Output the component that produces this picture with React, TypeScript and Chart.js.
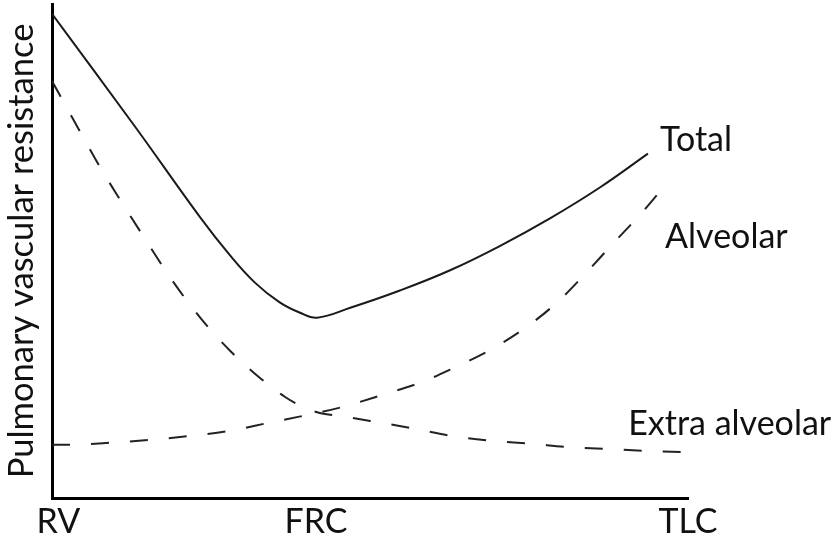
import React, { useEffect, useRef } from 'react';
import { Chart, registerables } from 'chart.js';

Chart.register(...registerables);

// Axis labels
const xTickValues = [1, 41.5, 100];
const xTickLabels = ['RV', 'FRC', 'TLC'];
const yAxisTitle = 'Pulmonary vascular resistance';

// Series (x: lung volume RV→TLC as 0–100, y: resistance arbitrary units)
const totalX = [0, 13.1, 23.3, 28.0, 31.9, 35.8, 39.0, 41.7, 46.9, 54.7, 62.6, 70.4, 78.3, 86.2, 93.7];
const totalY = [98.0, 75.1, 56.8, 49.1, 43.6, 39.6, 37.5, 36.5, 38.5, 42.0, 46.1, 51.0, 56.6, 62.9, 69.7];

const alveolarX = [0, 3.1, 9.4, 15.7, 22.0, 28.0, 34.0, 40.1, 45.3, 52.0, 58.2, 62.6, 69.5, 74.7, 79.6, 84.0, 88.2, 92.5, 96.4];
const alveolarY = [10.8, 10.8, 11.2, 11.8, 12.6, 13.6, 15.2, 16.8, 18.3, 20.9, 23.5, 26.0, 30.4, 34.7, 39.8, 45.6, 51.5, 57.4, 63.3];

const extraX = [0, 4.4, 7.5, 10.7, 14.2, 18.6, 23.3, 28.0, 32.7, 36.6, 39.0, 42.1, 45.3, 50.0, 56.3, 62.6, 68.9, 75.2, 81.4, 87.7, 94.0, 99.2];
const extraY = [84.4, 74.2, 67.1, 60.4, 53.3, 44.6, 36.5, 29.8, 24.3, 20.5, 18.7, 17.2, 16.6, 15.6, 14.2, 12.6, 11.6, 11.0, 10.3, 9.9, 9.5, 9.3];

const seriesNames = ['Total', 'Alveolar', 'Extra alveolar'];

const toPoints = (xs: number[], ys: number[]) => xs.map((x, i) => ({ x, y: ys[i] }));

const FONT = 'Lato, "Open Sans", sans-serif';
const FONT_SIZE = 34;
const TITLE_SIZE = 34.5;
const INK = '#111';

export default function App() {
  const ref = useRef<HTMLCanvasElement>(null);

  useEffect(() => {
    document.body.style.margin = '0';
    const canvas = ref.current;
    if (!canvas) return;

    // label anchors in data units (left edge, baseline)
    const labelAnchors = [
      { x: 95.6, y: 70.2 },
      { x: 96.4, y: 50.7 },
      { x: 90.6, y: 12.8 },
    ];

    const labelPlugin = {
      id: 'curveLabels',
      afterDraw(chart: any) {
        const { ctx, scales } = chart;
        ctx.save();
        ctx.font = `${FONT_SIZE}px ${FONT}`;
        ctx.fillStyle = INK;
        ctx.textAlign = 'left';
        ctx.textBaseline = 'alphabetic';
        seriesNames.forEach((name, i) => {
          const a = labelAnchors[i];
          ctx.fillText(name, scales.x.getPixelForValue(a.x), scales.y.getPixelForValue(a.y));
        });
        ctx.restore();
      },
    };

    const chart = new Chart(canvas, {
      type: 'line',
      data: {
        datasets: [
          {
            label: seriesNames[0],
            data: toPoints(totalX, totalY),
            borderColor: '#1a1a1a',
            borderWidth: 2,
            pointRadius: 0,
            tension: 0.4,
            fill: false,
          },
          {
            label: seriesNames[1],
            data: toPoints(alveolarX, alveolarY),
            borderColor: '#222',
            borderWidth: 2,
            borderDash: [18, 21],
            pointRadius: 0,
            cubicInterpolationMode: 'monotone',
            fill: false,
          },
          {
            label: seriesNames[2],
            data: toPoints(extraX, extraY),
            borderColor: '#222',
            borderWidth: 2,
            borderDash: [18, 21],
            pointRadius: 0,
            cubicInterpolationMode: 'monotone',
            fill: false,
          },
        ],
      },
      options: {
        responsive: false,
        animation: false,
        devicePixelRatio: 1,
        layout: { padding: { left: 0, top: 4, right: 148, bottom: 0 } },
        plugins: { legend: { display: false }, tooltip: { enabled: false } },
        scales: {
          x: {
            type: 'linear',
            min: 0,
            max: 100,
            grid: { display: false, drawTicks: false },
            border: { display: true, color: '#000', width: 3 },
            afterBuildTicks: (s: any) => {
              s.ticks = xTickValues.map((v) => ({ value: v }));
            },
            ticks: {
              autoSkip: false,
              maxRotation: 0,
              minRotation: 0,
              padding: 4,
              color: INK,
              font: { family: FONT, size: FONT_SIZE },
              callback: (_v: any, i: number) => xTickLabels[i] ?? '',
            },
            afterFit: (s: any) => {
              s.height = 41;
            },
          },
          y: {
            type: 'linear',
            min: 0,
            max: 100,
            grid: { display: false, drawTicks: false },
            border: { display: true, color: '#000', width: 3 },
            ticks: { display: false },
            title: {
              display: true,
              text: yAxisTitle,
              color: INK,
              font: { family: FONT, size: TITLE_SIZE, lineHeight: 1.2 },
              padding: { top: 1, bottom: 0 },
            },
            afterFit: (s: any) => {
              s.width = 52;
            },
          },
        },
      },
      plugins: [labelPlugin],
    } as any);

    return () => chart.destroy();
  }, []);

  return <canvas ref={ref} width={836} height={539} style={{ display: 'block' }} />;
}
